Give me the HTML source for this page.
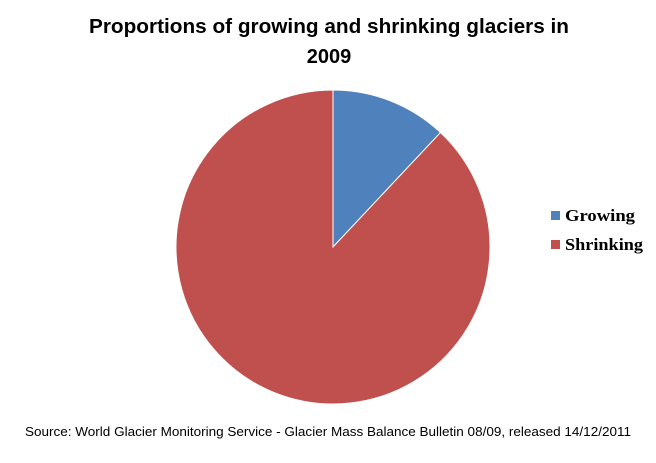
<!DOCTYPE html>
<html>
<head>
<meta charset="utf-8">
<style>
  html, body { margin: 0; padding: 0; background: #fff; }
  #chart { width: 656px; height: 463px; position: relative; overflow: hidden; background: #fff; }
  svg { display: block; }
</style>
</head>
<body>
<div id="chart">
<svg id="svg" width="656" height="463" xmlns="http://www.w3.org/2000/svg">
  <text x="329" y="33" text-anchor="middle" font-family="Liberation Sans, sans-serif" font-weight="bold" font-size="20" fill="#000" textLength="480" lengthAdjust="spacingAndGlyphs">Proportions of growing  and shrinking glaciers in</text>
  <text x="329" y="63" text-anchor="middle" font-family="Liberation Sans, sans-serif" font-weight="bold" font-size="20" fill="#000">2009</text>
  <g id="slices"></g>
  <g id="legend"></g>
  <text x="328" y="436" text-anchor="middle" font-family="Liberation Sans, sans-serif" font-size="12.5" fill="#000" textLength="606" lengthAdjust="spacingAndGlyphs">Source: World Glacier Monitoring Service - Glacier Mass Balance Bulletin 08/09, released  14/12/2011</text>
</svg>
</div>
<script>
const categories = ["Growing", "Shrinking"];
const values = [12, 88];
const colors = ["#4f81bd", "#c0504d"];
const legendWidths = [70, 78];

const NS = "http://www.w3.org/2000/svg";
const cx = 333, cy = 247, r = 157;
const total = values.reduce((a, b) => a + b, 0);
const slicesG = document.getElementById("slices");
const legendG = document.getElementById("legend");
let start = 0;
values.forEach((v, i) => {
  const a0 = start / total * 2 * Math.PI;
  start += v;
  const a1 = start / total * 2 * Math.PI;
  const x0 = cx + r * Math.sin(a0), y0 = cy - r * Math.cos(a0);
  const x1 = cx + r * Math.sin(a1), y1 = cy - r * Math.cos(a1);
  const large = (a1 - a0) > Math.PI ? 1 : 0;
  const p = document.createElementNS(NS, "path");
  p.setAttribute("d", `M${cx},${cy} L${x0},${y0} A${r},${r} 0 ${large} 1 ${x1},${y1} Z`);
  p.setAttribute("fill", colors[i]);
  p.setAttribute("stroke", "#fff");
  p.setAttribute("stroke-width", "1");
  
  
  slicesG.appendChild(p);

  const ly = 216 + i * 29;
  const sw = document.createElementNS(NS, "rect");
  sw.setAttribute("x", 551); sw.setAttribute("y", ly - 5);
  sw.setAttribute("width", 9); sw.setAttribute("height", 9);
  sw.setAttribute("fill", colors[i]);
  
  
  legendG.appendChild(sw);
  const t = document.createElementNS(NS, "text");
  t.setAttribute("x", 565); t.setAttribute("y", ly + 5);
  t.setAttribute("font-family", "Liberation Serif, serif");
  t.setAttribute("font-size", "17");
  t.setAttribute("font-weight", "bold");
  t.setAttribute("textLength", legendWidths[i]);
  t.setAttribute("lengthAdjust", "spacingAndGlyphs");
  t.textContent = categories[i];
  
  
  legendG.appendChild(t);
});
</script>
</body>
</html>
